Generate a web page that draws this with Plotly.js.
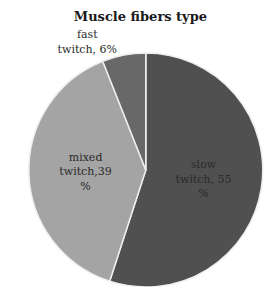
<!DOCTYPE html>
<html><head><meta charset="utf-8">
<script src="https://cdn.plot.ly/plotly-3.0.1.min.js"></script>
<style>html,body{margin:0;padding:0;background:#fff}#c{width:270px;height:287px}</style>
</head><body><div id="c"></div>
<script>
const categories = ["slow twitch", "mixed twitch", "fast twitch"];
const values = [55, 39, 6];
const labelText = ["slow<br>twitch, 55<br>%", "mixed<br>twitch,39<br>%", "fast<br>twitch, 6%"];
const colors = ["#505050", "#a4a4a4", "#686868"];

Plotly.newPlot("c", [{
  type: "pie",
  labels: categories,
  values: values,
  text: labelText,
  texttemplate: "%{text}",
  textposition: ["inside", "inside", "outside"],
  insidetextorientation: "horizontal",
  sort: false,
  direction: "clockwise",
  rotation: 0,
  marker: {colors: colors, line: {color: "#eeeeee", width: 1.5}},
  textfont: {family: "DejaVu Serif, serif", size: 11, color: "#2a2a2a"},
  outsidetextfont: {family: "DejaVu Serif, serif", size: 11, color: "#2a2a2a"},
  automargin: false,
  domain: {x: [0.1, 0.98], y: [0.0, 0.815]},
  hoverinfo: "none"
}], {
  width: 270, height: 287,
  margin: {l: 0, r: 0, t: 0, b: 0},
  paper_bgcolor: "#fff",
  showlegend: false,
  title: {text: "<b>Muscle fibers type</b>", x: 0.52, xanchor: "center", y: 0.942, yanchor: "middle",
    font: {family: "DejaVu Serif, serif", size: 13, color: "#1a1a1a"}}
}, {displayModeBar: false, staticPlot: true});
</script></body></html>
